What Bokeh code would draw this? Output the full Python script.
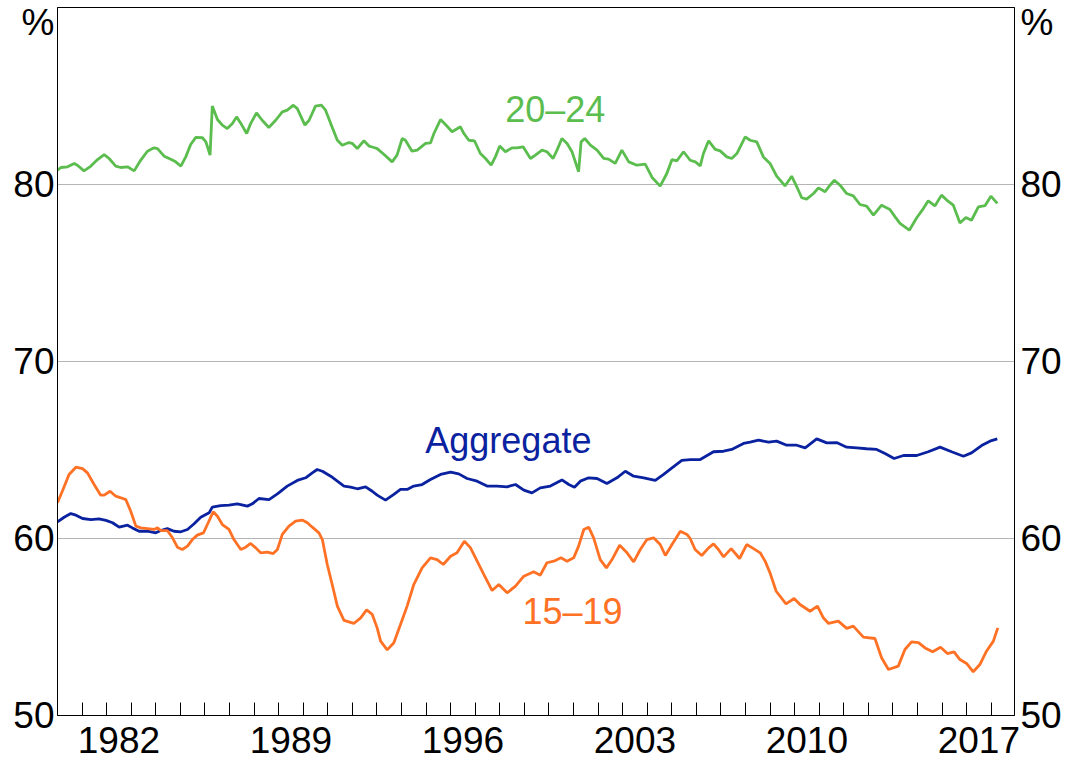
from bokeh.plotting import figure
from bokeh.models import Range1d, FixedTicker, LinearAxis, Label
from bokeh.embed import file_html
from bokeh.resources import INLINE

# ---- data (participation rates, %) ----
years_20_24 = [1980.0, 1980.14, 1980.41, 1980.68, 1980.81, 1981.08, 1981.36, 1981.63, 1981.9, 1982.1,
               1982.37, 1982.57, 1982.85, 1983.12, 1983.39, 1983.66, 1983.93, 1984.07, 1984.34, 1984.61,
               1984.81, 1985.02, 1985.22, 1985.42, 1985.63, 1985.9, 1986.04, 1986.21, 1986.3, 1986.51,
               1986.71, 1986.91, 1987.12, 1987.29, 1987.45, 1987.7, 1987.86, 1988.1, 1988.33, 1988.6,
               1988.88, 1989.15, 1989.35, 1989.6, 1989.76, 1990.07, 1990.24, 1990.5, 1990.74, 1990.91,
               1991.12, 1991.39, 1991.59, 1991.86, 1992.0, 1992.2, 1992.47, 1992.68, 1992.88, 1993.01,
               1993.28, 1993.62, 1993.82, 1994.03, 1994.16, 1994.43, 1994.64, 1994.98, 1995.18, 1995.32,
               1995.59, 1995.79, 1996.06, 1996.4, 1996.54, 1996.74, 1996.97, 1997.21, 1997.42, 1997.65,
               1997.82, 1998.0, 1998.23, 1998.5, 1998.7, 1998.95, 1999.25, 1999.45, 1999.72, 1999.92,
               2000.17, 2000.33, 2000.53, 2000.74, 2000.94, 2001.21, 2001.31, 2001.46, 2001.69, 2001.96,
               2002.23, 2002.43, 2002.7, 2002.97, 2003.25, 2003.58, 2003.92, 2004.2, 2004.53, 2004.8,
               2005.01, 2005.21, 2005.48, 2005.75, 2005.96, 2006.16, 2006.29, 2006.5, 2006.77, 2006.97,
               2007.24, 2007.44, 2007.65, 2007.99, 2008.19, 2008.46, 2008.73, 2009.0, 2009.27, 2009.61,
               2009.88, 2010.09, 2010.29, 2010.49, 2010.77, 2010.97, 2011.24, 2011.44, 2011.62, 2011.85,
               2012.12, 2012.39, 2012.66, 2012.93, 2013.21, 2013.54, 2013.88, 2014.09, 2014.29, 2014.67,
               2014.97, 2015.24, 2015.44, 2015.71, 2015.98, 2016.19, 2016.46, 2016.73, 2016.97, 2017.2,
               2017.48, 2017.75, 2017.99, 2018.25]
rate_20_24 = [80.81, 80.96, 81.0, 81.19, 81.09, 80.77, 81.04, 81.41, 81.69, 81.47,
              81.04, 80.96, 81.0, 80.77, 81.38, 81.88, 82.07, 82.03, 81.6, 81.43,
              81.28, 81.04, 81.56, 82.26, 82.66, 82.64, 82.41, 81.66, 84.43, 83.67,
              83.35, 83.16, 83.44, 83.82, 83.48, 82.88, 83.44, 84.05, 83.63, 83.22,
              83.63, 84.1, 84.2, 84.48, 84.29, 83.35, 83.63, 84.43, 84.48, 84.2,
              83.44, 82.5, 82.22, 82.37, 82.32, 82.03, 82.47, 82.17, 82.09, 82.03,
              81.71, 81.28, 81.66, 82.6, 82.5, 81.88, 81.94, 82.32, 82.35, 82.88,
              83.67, 83.39, 82.98, 83.26, 82.88, 82.5, 82.47, 81.75, 81.47, 81.09,
              81.56, 82.17, 81.85, 82.07, 82.07, 82.13, 81.47, 81.66, 81.94, 81.85,
              81.47, 81.94, 82.6, 82.32, 81.85, 80.72, 82.41, 82.6, 82.22, 81.94,
              81.47, 81.43, 81.19, 81.94, 81.28, 81.09, 81.15, 80.4, 79.91, 80.62,
              81.41, 81.34, 81.85, 81.37, 81.28, 81.05, 81.75, 82.47, 81.98, 81.9,
              81.56, 81.47, 81.75, 82.69, 82.5, 82.41, 81.56, 81.19, 80.47, 79.92,
              80.47, 79.87, 79.25, 79.17, 79.49, 79.81, 79.59, 79.96, 80.24, 79.96,
              79.49, 79.36, 78.87, 78.78, 78.27, 78.83, 78.59, 78.17, 77.8, 77.42,
              78.12, 78.64, 79.08, 78.79, 79.4, 79.12, 78.83, 77.83, 78.14, 77.98,
              78.74, 78.8, 79.34, 78.93]

years_agg = [1980.0, 1980.27, 1980.54, 1980.75, 1981.02, 1981.36, 1981.69, 1981.97, 1982.24, 1982.51,
             1982.85, 1983.05, 1983.32, 1983.66, 1984.0, 1984.2, 1984.47, 1984.74, 1985.02, 1985.29,
             1985.56, 1985.83, 1986.17, 1986.3, 1986.64, 1986.98, 1987.32, 1987.73, 1987.93, 1988.2,
             1988.61, 1988.95, 1989.35, 1989.76, 1990.1, 1990.37, 1990.57, 1990.78, 1991.12, 1991.39,
             1991.66, 1991.93, 1992.2, 1992.54, 1992.81, 1993.01, 1993.35, 1993.69, 1993.96, 1994.23,
             1994.5, 1994.84, 1995.18, 1995.59, 1996.0, 1996.33, 1996.67, 1997.08, 1997.48, 1997.89,
             1998.3, 1998.64, 1998.98, 1999.31, 1999.65, 2000.06, 2000.53, 2000.81, 2001.04, 2001.28,
             2001.62, 2001.96, 2002.36, 2002.77, 2003.11, 2003.45, 2003.86, 2004.33, 2004.67, 2005.01,
             2005.41, 2005.75, 2006.16, 2006.7, 2007.11, 2007.44, 2007.92, 2008.19, 2008.53, 2008.94,
             2009.27, 2009.68, 2010.09, 2010.43, 2010.9, 2011.31, 2011.71, 2012.12, 2012.53, 2012.93,
             2013.34, 2013.68, 2014.05, 2014.43, 2014.97, 2015.44, 2015.92, 2016.39, 2016.87, 2017.2,
             2017.61, 2017.95, 2018.25]
rate_agg = [60.94, 61.2, 61.41, 61.32, 61.13, 61.07, 61.11, 61.02, 60.89, 60.64,
            60.75, 60.6, 60.41, 60.41, 60.32, 60.45, 60.56, 60.41, 60.38, 60.51,
            60.83, 61.2, 61.45, 61.77, 61.86, 61.88, 61.96, 61.83, 61.96, 62.26,
            62.2, 62.52, 62.96, 63.28, 63.43, 63.71, 63.9, 63.8, 63.52, 63.24,
            62.96, 62.9, 62.81, 62.92, 62.67, 62.45, 62.17, 62.49, 62.77, 62.77,
            62.96, 63.05, 63.33, 63.62, 63.75, 63.65, 63.39, 63.24, 62.96, 62.96,
            62.92, 63.05, 62.73, 62.58, 62.86, 62.96, 63.31, 63.05, 62.9, 63.24,
            63.43, 63.39, 63.11, 63.43, 63.8, 63.52, 63.43, 63.28, 63.62, 63.99,
            64.41, 64.46, 64.46, 64.9, 64.93, 65.03, 65.37, 65.44, 65.56, 65.44,
            65.5, 65.27, 65.27, 65.12, 65.63, 65.4, 65.42, 65.16, 65.12, 65.07,
            65.03, 64.8, 64.52, 64.69, 64.69, 64.9, 65.16, 64.9, 64.65, 64.84,
            65.25, 65.5, 65.63]

years_15_19 = [1980.0, 1980.2, 1980.47, 1980.75, 1981.02, 1981.22, 1981.49, 1981.76, 1981.9, 1982.14,
               1982.37, 1982.58, 1982.78, 1982.98, 1983.19, 1983.39, 1983.66, 1983.93, 1984.07, 1984.2,
               1984.47, 1984.68, 1984.88, 1985.08, 1985.29, 1985.49, 1985.69, 1985.94, 1986.1, 1986.34,
               1986.51, 1986.71, 1986.98, 1987.18, 1987.46, 1987.66, 1987.86, 1988.07, 1988.27, 1988.54,
               1988.78, 1988.95, 1989.15, 1989.42, 1989.69, 1989.96, 1990.17, 1990.37, 1990.64, 1990.78,
               1990.98, 1991.18, 1991.39, 1991.66, 1992.06, 1992.34, 1992.58, 1992.81, 1993.01, 1993.15,
               1993.42, 1993.69, 1993.96, 1994.23, 1994.5, 1994.84, 1995.18, 1995.45, 1995.7, 1996.0,
               1996.26, 1996.56, 1996.81, 1997.08, 1997.35, 1997.69, 1997.96, 1998.3, 1998.64, 1998.98,
               1999.38, 1999.65, 1999.92, 2000.2, 2000.49, 2000.74, 2001.01, 2001.21, 2001.42, 2001.62,
               2001.82, 2002.09, 2002.34, 2002.57, 2002.88, 2003.18, 2003.45, 2003.72, 2003.99, 2004.26,
               2004.53, 2004.74, 2005.01, 2005.35, 2005.62, 2005.75, 2005.95, 2006.22, 2006.5, 2006.7,
               2006.9, 2007.11, 2007.42, 2007.76, 2008.05, 2008.33, 2008.6, 2008.8, 2009.0, 2009.25,
               2009.65, 2009.98, 2010.22, 2010.63, 2010.93, 2011.17, 2011.38, 2011.78, 2012.12, 2012.39,
               2012.8, 2013.27, 2013.54, 2013.82, 2014.22, 2014.49, 2014.76, 2015.04, 2015.31, 2015.62,
               2015.94, 2016.22, 2016.49, 2016.73, 2017.0, 2017.27, 2017.54, 2017.81, 2018.09, 2018.27]
rate_15_19 = [62.02, 62.68, 63.62, 64.03, 63.95, 63.71, 63.05, 62.45, 62.45, 62.67,
              62.39, 62.3, 62.2, 61.54, 60.7, 60.6, 60.56, 60.51, 60.6, 60.45,
              60.45, 60.04, 59.51, 59.38, 59.57, 59.94, 60.19, 60.32, 60.79, 61.51,
              61.26, 60.79, 60.51, 59.94, 59.38, 59.51, 59.72, 59.47, 59.19, 59.23,
              59.15, 59.38, 60.23, 60.7, 60.98, 61.04, 60.89, 60.64, 60.32, 59.94,
              58.53, 57.4, 56.18, 55.37, 55.2, 55.52, 55.97, 55.71, 54.95, 54.2,
              53.71, 54.11, 55.14, 56.18, 57.4, 58.34, 58.91, 58.81, 58.53, 59.0,
              59.19, 59.85, 59.47, 58.72, 57.97, 57.06, 57.4, 56.93, 57.31, 57.87,
              58.12, 57.93, 58.63, 58.72, 58.91, 58.72, 58.91, 59.57, 60.51, 60.64,
              60.04, 58.81, 58.34, 58.81, 59.62, 59.19, 58.68, 59.38, 59.94, 60.04,
              59.66, 59.04, 59.66, 60.41, 60.23, 60.0, 59.38, 59.04, 59.47, 59.7,
              59.38, 58.96, 59.43, 58.87, 59.66, 59.43, 59.19, 58.72, 58.06, 57.02,
              56.31, 56.61, 56.27, 55.89, 56.18, 55.52, 55.2, 55.33, 54.92, 55.05,
              54.43, 54.35, 53.26, 52.6, 52.79, 53.73, 54.16, 54.12, 53.82, 53.6,
              53.86, 53.5, 53.6, 53.16, 52.94, 52.47, 52.88, 53.63, 54.2, 54.95]

y_ticks = [50, 60, 70, 80, 89.125]
y_tick_labels = ["50", "60", "70", "80", "%"]
grid_values = [60, 70, 80]
year_ticks = list(range(1981, 2019))
year_labels = ["1982", "1989", "1996", "2003", "2010", "2017"]

series_names = ["20–24", "Aggregate", "15–19"]
series_colors = ["#5bbd4e", "#0a22a0", "#ff7124"]
# label anchor (x, y) in data units
series_label_pos = [(2000.26, 84.25), (1998.35, 65.55), (2000.96, 55.88)]

AXIS_FONT = "Liberation Sans"
TEXT_FONT = "Liberation Sans"
AXIS_SIZE = "37px"

p = figure(width=1065, height=768,
           x_range=Range1d(1980, 2018.95), y_range=Range1d(50, 90),
           output_backend="svg", toolbar_location=None,
           min_border_left=57, min_border_right=51, min_border_top=7, min_border_bottom=53)

p.background_fill_color = "white"
p.border_fill_color = "white"
p.outline_line_color = "black"
p.outline_line_width = 1
p.outline_line_alpha = 1.0

p.xgrid.visible = False
p.ygrid.ticker = FixedTicker(ticks=grid_values)
p.ygrid.grid_line_color = "#b5b5b5"
p.ygrid.grid_line_width = 1

# bottom axis: year boundary ticks pointing inward, year labels centred in the year
label_pos = [int(y) + 0.5 for y in year_labels]
xa = p.xaxis[0]
xa.ticker = FixedTicker(ticks=label_pos, minor_ticks=year_ticks)
xa.major_label_overrides = {pos: lab for pos, lab in zip(label_pos, year_labels)}
xa.axis_line_color = "black"
xa.axis_line_width = 1
xa.major_tick_line_color = None
xa.major_tick_in = 0
xa.major_tick_out = 0
xa.minor_tick_line_color = "black"
xa.minor_tick_line_width = 1
xa.minor_tick_in = 13
xa.minor_tick_out = 0
xa.major_label_standoff = 11
xa.major_label_text_font = AXIS_FONT
xa.major_label_text_font_size = AXIS_SIZE
xa.major_label_text_color = "black"

overrides = {t: l for t, l in zip(y_ticks, y_tick_labels)}

def style_y(ax, standoff):
    ax.ticker = FixedTicker(ticks=y_ticks)
    ax.major_label_overrides = overrides
    ax.axis_line_color = "black"
    ax.axis_line_width = 1
    ax.major_tick_line_color = None
    ax.major_tick_in = 0
    ax.major_tick_out = 0
    ax.minor_tick_line_color = None
    ax.major_label_text_font = AXIS_FONT
    ax.major_label_text_font_size = AXIS_SIZE
    ax.major_label_text_color = "black"
    ax.major_label_standoff = standoff

style_y(p.yaxis[0], 3)
right_axis = LinearAxis()
style_y(right_axis, 6)
p.add_layout(right_axis, "right")

for xs, ys, c in zip([years_20_24, years_agg, years_15_19],
                     [rate_20_24, rate_agg, rate_15_19], series_colors):
    p.line(xs, ys, line_color=c, line_width=2.8)

for name, c, (lx, ly) in zip(series_names, series_colors, series_label_pos):
    p.add_layout(Label(x=lx, y=ly, text=name, text_color=c, text_font=TEXT_FONT,
                       text_font_size="36px", text_align="center", text_baseline="alphabetic"))

open("out.html", "w").write(file_html(p, INLINE))
